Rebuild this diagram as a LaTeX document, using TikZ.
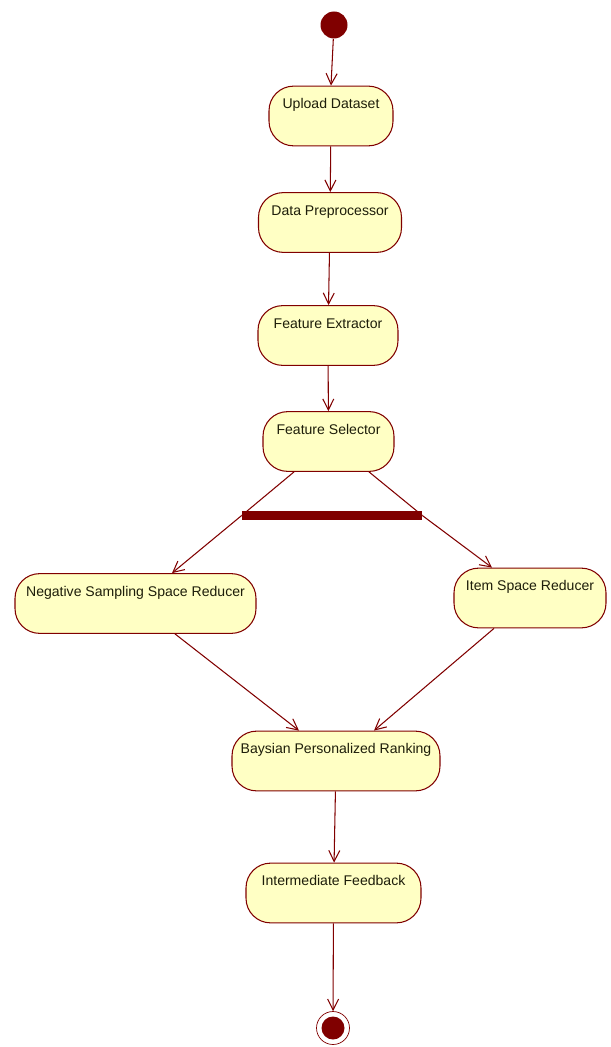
\documentclass[tikz,border=0pt]{standalone}
\usepackage{fontspec}
\setmainfont{Liberation Sans}
\usetikzlibrary{arrows.meta,positioning}
\definecolor{maroon}{RGB}{128,0,0}
\definecolor{cream}{RGB}{255,255,196}
\definecolor{inktxt}{RGB}{30,30,10}

\begin{document}
\begin{tikzpicture}[
  x=0.02cm, y=-0.02cm,
  font=\fontsize{8}{9}\selectfont,
  act/.style={draw=maroon, fill=cream, rounded corners=14pt, line width=0.6pt,
    text=inktxt, inner xsep=0pt, inner ysep=0pt, text height=13pt, text depth=21pt},
  bar/.style={fill=maroon, inner sep=0pt, minimum width=3.6cm, minimum height=0.18cm},
  initial/.style={circle, fill=maroon, inner sep=0pt, minimum size=0.54cm},
  final/.style={circle, draw=maroon, fill=white, inner sep=0pt, minimum size=0.66cm,
    path picture={\fill[maroon] (path picture bounding box.center) circle (0.23cm);}},
  arrow/.style={-{Straight Barb[length=2.2mm,width=2.2mm]}, draw=maroon, line width=0.6pt},
  line/.style={draw=maroon, line width=0.6pt}
]
\useasboundingbox (0,0) rectangle (610,1047);

\node[initial] (start) at (334,25) {};
\node[act, minimum width=2.48cm] (upload) at (331,116) {Upload Dataset};
\node[act, minimum width=2.86cm] (prep) at (330,222.5) {Data Preprocessor};
\node[act, minimum width=2.80cm] (extract) at (328,335.5) {Feature Extractor};
\node[act, minimum width=2.62cm] (select) at (328.5,441.5) {Feature Selector};
\node[bar] (fork) at (332,515.5) {};
\node[act, minimum width=4.82cm] (negred) at (135.5,603.5) {Negative Sampling Space Reducer};
\node[act, minimum width=3.04cm] (itemred) at (530,598) {Item Space Reducer};
\node[act, minimum width=4.16cm] (bpr) at (336,761) {Baysian Personalized Ranking};
\node[act, minimum width=3.50cm] (feedback) at (333.5,893) {Intermediate Feedback};
\node[final] (stop) at (333,1028) {};

\draw[arrow] (start) -- (upload.north);
\draw[arrow] (upload) -- (prep);
\draw[arrow] (prep) -- (extract);
\draw[arrow] (extract) -- (select);

\draw[line] ([xshift=-0.69cm]select.south) -- (fork.west);
\draw[line] ([xshift=0.81cm]select.south) -- (fork.east);
\draw[arrow] (fork.west) -- ([xshift=0.73cm]negred.north);
\draw[arrow] (fork.east) -- ([xshift=-0.76cm]itemred.north);

\draw[arrow] ([xshift=0.79cm]negred.south) -- ([xshift=-0.74cm]bpr.north);
\draw[arrow] ([xshift=-0.72cm]itemred.south) -- ([xshift=0.76cm]bpr.north);
\draw[arrow] (bpr) -- (feedback);
\draw[arrow] (feedback) -- (stop);

\end{tikzpicture}
\end{document}
